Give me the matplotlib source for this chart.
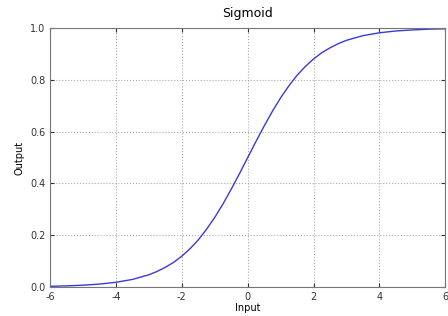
import matplotlib
matplotlib.use("Agg")
import matplotlib.pyplot as plt

inputs = [-6.0, -5.5, -5.0, -4.5, -4.0, -3.5, -3.0, -2.75, -2.5, -2.25, -2.0, -1.75,
          -1.5, -1.25, -1.0, -0.75, -0.5, -0.25, 0.0, 0.25, 0.5, 0.75, 1.0, 1.25,
          1.5, 1.75, 2.0, 2.25, 2.5, 2.75, 3.0, 3.5, 4.0, 4.5, 5.0, 5.5, 6.0]
outputs = [0.0025, 0.004, 0.0067, 0.011, 0.018, 0.029, 0.047, 0.060, 0.076, 0.095,
           0.119, 0.148, 0.182, 0.223, 0.269, 0.321, 0.378, 0.438, 0.5, 0.562,
           0.622, 0.679, 0.731, 0.777, 0.818, 0.852, 0.881, 0.905, 0.924, 0.940,
           0.953, 0.971, 0.982, 0.989, 0.993, 0.996, 0.9975]
x_ticks = [-6, -4, -2, 0, 2, 4, 6]
y_ticks = [0.0, 0.2, 0.4, 0.6, 0.8, 1.0]

fig = plt.figure(figsize=(4.48, 3.16), dpi=100)
ax = fig.add_axes([0.112, 0.092, 0.882, 0.819])
ax.plot(inputs, outputs, color="#3a3ad8", lw=1.0)
ax.set_xlim(-6, 6)
ax.set_ylim(0, 1)
ax.set_xticks(x_ticks)
ax.set_yticks(y_ticks)
ax.set_xticklabels([str(t) for t in x_ticks])
ax.set_yticklabels([f"{t:.1f}" for t in y_ticks])
ax.tick_params(direction="in", labelsize=7, colors="#333333", length=3, top=True, right=True)
ax.grid(True, linestyle=":", color="#aaaaaa", lw=0.8)
for s in ax.spines.values():
    s.set_color("#777777")
    s.set_linewidth(0.8)
ax.set_title("Sigmoid", fontsize=9, pad=8)
ax.set_xlabel("Input", fontsize=7, labelpad=1)
ax.set_ylabel("Output", fontsize=7, labelpad=4)
fig.savefig("out.png", dpi=100)
